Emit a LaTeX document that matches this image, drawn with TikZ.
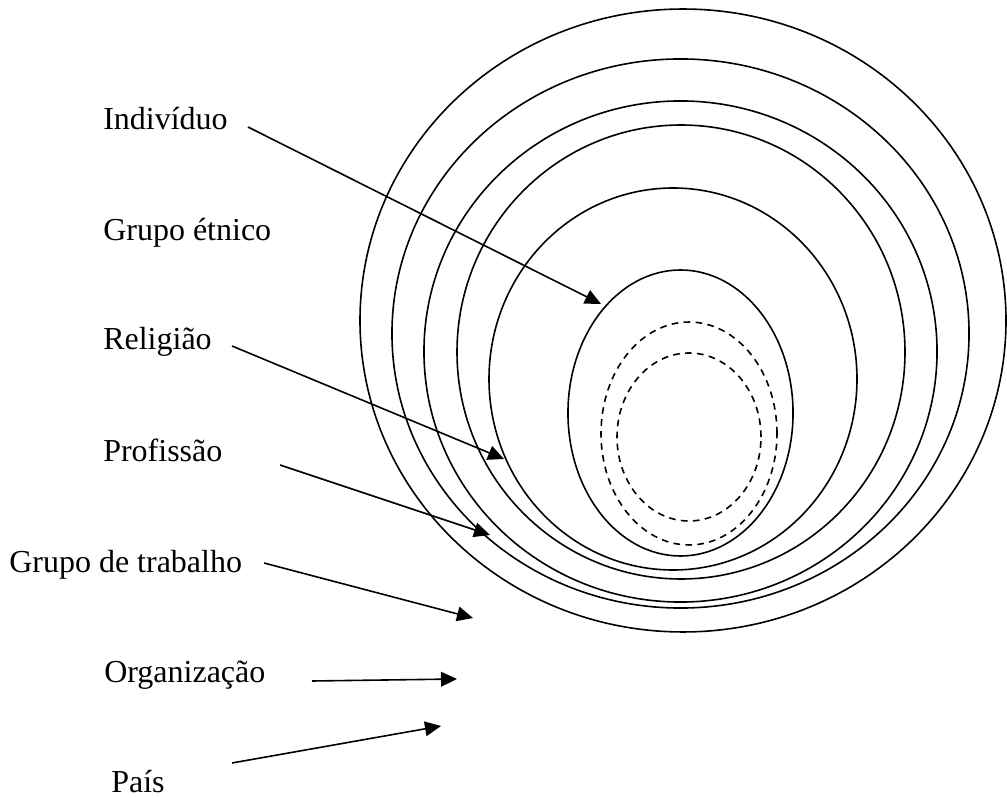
\documentclass[tikz,border=0pt]{standalone}
\usepackage{fontspec}
\setmainfont{Liberation Serif}
\usetikzlibrary{arrows.meta}
\begin{document}
\begin{tikzpicture}[x=0.75pt,y=-0.75pt,
  ring/.style={line width=1.2pt},
  dring/.style={line width=1.2pt,dash pattern=on 5pt off 4pt},
  lbl/.style={anchor=base west,inner sep=0pt,font=\fontsize{24}{28}\selectfont},
  pointer/.style={line width=1.2pt,-{Triangle[length=12pt,width=11pt]}}]
\useasboundingbox (0,0) rectangle (1007,798);
% nested rings
\draw[ring] (683,320.5) ellipse [x radius=242.25pt, y radius=233.6pt];
\draw[ring] (680.5,333.5) ellipse [x radius=216.4pt, y radius=205.9pt];
\draw[ring] (680.5,351.5) ellipse [x radius=192.4pt, y radius=187.9pt];
\draw[ring] (681,352) ellipse [x radius=168pt, y radius=170.25pt];
\draw[ring] (673,379) ellipse [x radius=138pt, y radius=143.25pt];
\draw[ring] (680.5,413) ellipse [x radius=84.4pt, y radius=107.25pt];
\draw[dring] (689,433.5) ellipse [x radius=66pt, y radius=83.6pt];
\draw[dring] (689,437) ellipse [x radius=54pt, y radius=63pt];
% labels
\node[lbl] (ind) at (103,130) {Indivíduo};
\node[lbl] (etn) at (103,241) {Grupo étnico};
\node[lbl] (rel) at (103,350) {Religião};
\node[lbl] (pro) at (103,462) {Profissão};
\node[lbl] (gtr) at (9,572) {Grupo de trabalho};
\node[lbl] (org) at (104,682) {Organização};
\node[lbl] (pai) at (111,792) {País};
% arrow ends
\coordinate (indS) at (248,127);  \coordinate (indE) at (601,304);
\coordinate (relS) at (232,346);  \coordinate (relE) at (504,459);
\coordinate (proS) at (280,465);  \coordinate (proE) at (490,535);
\coordinate (gtrS) at (264,563);  \coordinate (gtrE) at (473,618);
\coordinate (orgS) at (312,681);  \coordinate (orgE) at (457,679);
\coordinate (paiS) at (232,763);  \coordinate (paiE) at (441,726);
\draw[pointer] (indS) -- (indE);
\draw[pointer] (relS) -- (relE);
\draw[pointer] (proS) -- (proE);
\draw[pointer] (gtrS) -- (gtrE);
\draw[pointer] (orgS) -- (orgE);
\draw[pointer] (paiS) -- (paiE);
\end{tikzpicture}
\end{document}
